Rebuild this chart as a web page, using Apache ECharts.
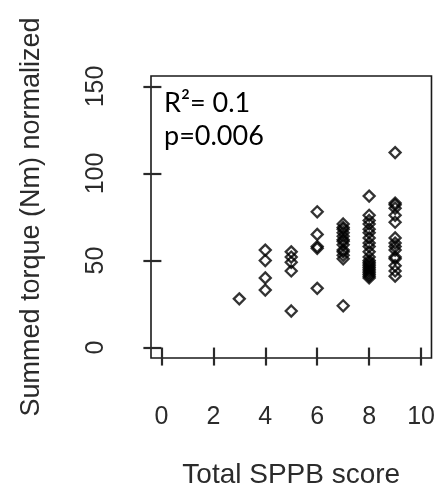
<!DOCTYPE html>
<html>
<head>
<meta charset="utf-8">
<script src="https://cdn.jsdelivr.net/npm/echarts@6/dist/echarts.min.js"></script>
<style>
html, body { margin: 0; padding: 0; background: #fff; }
#chart-container { width: 438px; height: 496px; }
</style>
</head>
<body>
<div id="chart-container"></div>
<script>
// SPPB score columns and the torque values read at each one
var scores = [3, 4, 5, 6, 7, 8, 9];
var torque3 = [28];
var torque4 = [56, 50, 40, 33];
var torque5 = [55, 52, 49, 44, 21];
var torque6 = [78, 65, 58, 57, 34];
var torque7 = [71, 69, 68, 66, 64, 62, 61, 59, 56, 55, 53, 51, 24];
var torque8 = [87, 76, 73, 71, 68, 66, 63, 60, 58, 55, 52, 50, 49, 48, 47, 46, 45, 44, 43, 42, 41, 40];
var torque9 = [112, 83, 82, 80, 76, 72, 63, 60, 58, 56, 52, 51, 47, 44, 41];
var xTicks = [0, 2, 4, 6, 8, 10];
var yTicks = [0, 50, 100, 150];

var torqueByScore = [torque3, torque4, torque5, torque6, torque7, torque8, torque9];
var points = [];
scores.forEach(function (s, i) {
    torqueByScore[i].forEach(function (v) {
        points.push([s, v]);
    });
});

var dom = document.getElementById('chart-container');
var myChart = echarts.init(dom, null, { renderer: 'canvas' });

var axisFont = 'Liberation Sans';
var textColor = '#2b2b2b';
var option = {
    animation: false,
    backgroundColor: '#fff',
    title: {
        text: 'R\u00b2= 0.1\np=0.006',
        left: 159,
        top: 82,
        textStyle: {
            fontFamily: 'Lato',
            fontWeight: 'normal',
            fontSize: 27,
            lineHeight: 33,
            color: '#000'
        }
    },
    grid: {
        left: 151,
        right: 5,
        top: 76,
        bottom: 138,
        show: true,
        borderColor: '#1a1a1a',
        borderWidth: 1.6
    },
    xAxis: {
        type: 'value',
        min: -0.4,
        max: 10.4,
        name: 'Total SPPB score',
        nameLocation: 'middle',
        nameGap: 103,
        nameTextStyle: { fontFamily: axisFont, fontSize: 28, color: textColor },
        axisLine: { show: false },
        splitLine: { show: false },
        axisTick: {
            show: true,
            length: 18,
            lineStyle: { color: '#2a2a2a', width: 2.2 },
            customValues: xTicks
        },
        axisLabel: {
            fontFamily: axisFont,
            fontSize: 25,
            color: textColor,
            margin: 47,
            customValues: xTicks
        }
    },
    yAxis: {
        type: 'value',
        min: -6,
        max: 156,
        name: 'Summed torque (Nm) normalized',
        nameLocation: 'middle',
        nameGap: 106,
        nameRotate: 90,
        nameTextStyle: { fontFamily: axisFont, fontSize: 27, color: textColor },
        axisLine: { show: false },
        splitLine: { show: false },
        axisTick: {
            show: true,
            length: 18,
            lineStyle: { color: '#2a2a2a', width: 2.2 },
            customValues: yTicks
        },
        axisLabel: {
            fontFamily: axisFont,
            fontSize: 25,
            color: textColor,
            rotate: 90,
            margin: 42,
            customValues: yTicks
        }
    },
    series: [{
        type: 'scatter',
        data: points,
        symbol: 'diamond',
        symbolSize: 11,
        itemStyle: {
            color: 'rgba(0,0,0,0)',
            borderColor: '#000',
            borderWidth: 2.3
        }
    }]
};

myChart.setOption(option);
window.addEventListener('resize', myChart.resize);
</script>
</body>
</html>
